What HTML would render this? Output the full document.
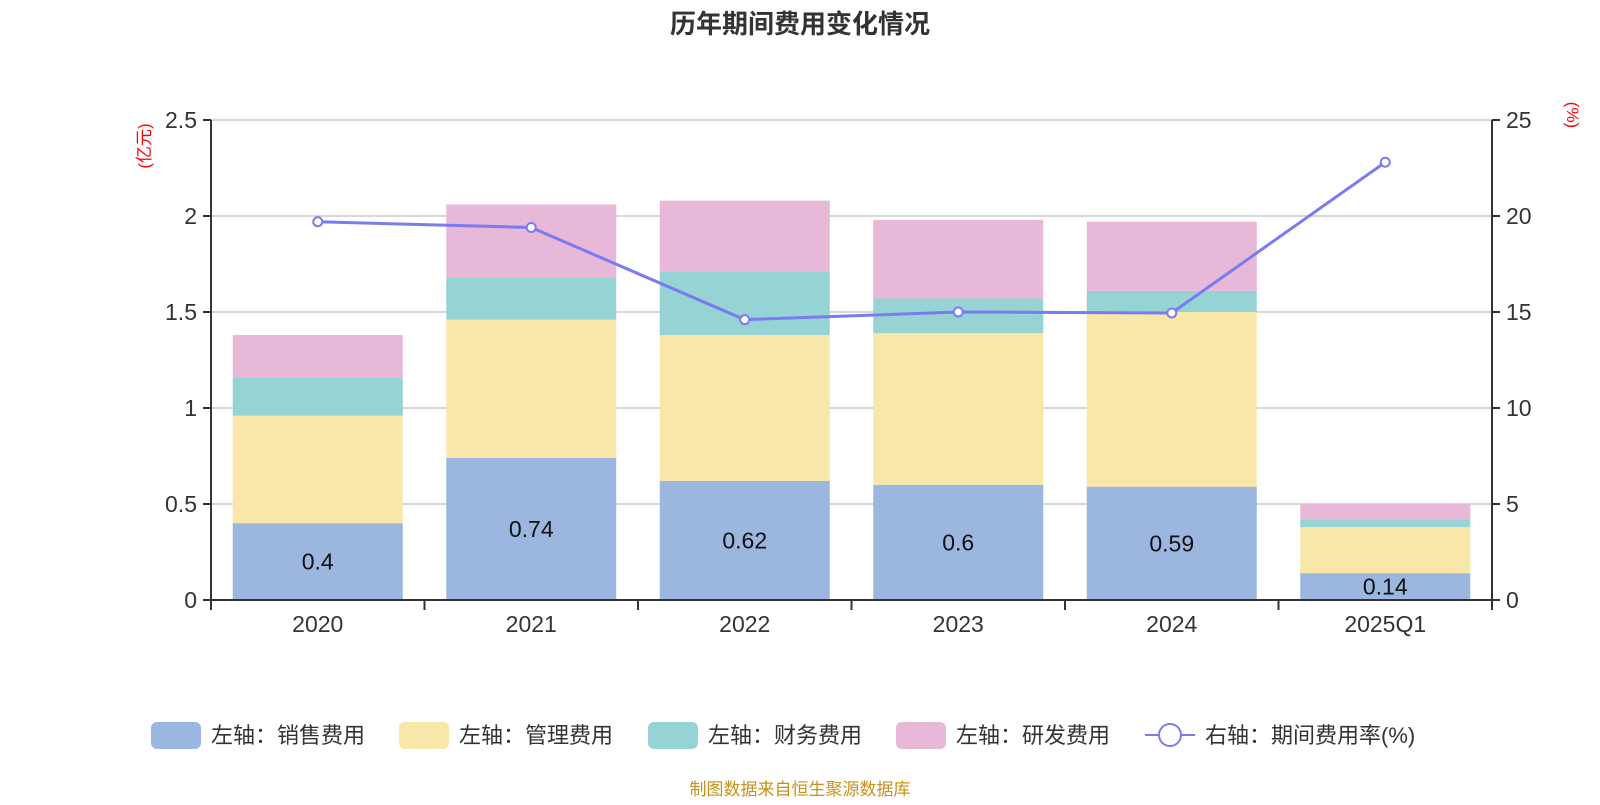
<!DOCTYPE html>
<html><head><meta charset="utf-8"><style>
body{margin:0;background:#fff;}
svg text{font-family:"Liberation Sans","Noto Sans CJK SC",sans-serif;}
</style></head><body>
<svg id="chart" width="1600" height="800" xmlns="http://www.w3.org/2000/svg">
<text x="800" y="33" text-anchor="middle" font-size="26" font-weight="bold" fill="#333">历年期间费用变化情况</text>
<text transform="translate(150,146) rotate(-90)" text-anchor="middle" font-size="17" fill="#f00">(亿元)</text>
<text transform="translate(1567,115) rotate(90)" text-anchor="middle" font-size="17" fill="#f00">(%)</text>
<g id="grid"></g><g id="bars"></g><g id="axes"></g><g id="line"></g>
<g id="legend" font-size="22" fill="#333">
<rect x="151" y="722" width="50" height="27" rx="6" fill="#9bb7e0"/>
<text x="211" y="743">左轴：销售费用</text>
<rect x="399" y="722" width="50" height="27" rx="6" fill="#f8e7a8"/>
<text x="459" y="743">左轴：管理费用</text>
<rect x="648" y="722" width="50" height="27" rx="6" fill="#96d3d5"/>
<text x="708" y="743">左轴：财务费用</text>
<rect x="896" y="722" width="50" height="27" rx="6" fill="#e7b8d8"/>
<text x="956" y="743">左轴：研发费用</text>
<line x1="1145" y1="735" x2="1195" y2="735" stroke="#7b7bf0" stroke-width="2"/>
<circle cx="1170" cy="735" r="11" fill="#fff" stroke="#7b7bf0" stroke-width="2"/>
<text x="1205" y="743">右轴：期间费用率(%)</text>
</g>
<text x="800" y="795" text-anchor="middle" font-size="17" fill="#c8901a">制图数据来自恒生聚源数据库</text>
</svg>
<script>
const categories=["2020","2021","2022","2023","2024","2025Q1"];
const sales=[0.40,0.74,0.62,0.60,0.59,0.14];
const admin=[0.56,0.72,0.76,0.79,0.91,0.24];
const finance=[0.20,0.22,0.33,0.18,0.11,0.04];
const rd=[0.22,0.38,0.37,0.41,0.36,0.08];
const rate=[19.7,19.4,14.6,15.0,14.95,22.8];
const leftTicks=["0","0.5","1","1.5","2","2.5"];
const rightTicks=["0","5","10","15","20","25"];
const NS="http://www.w3.org/2000/svg";
const L=211,R=1492,T=120,B=600;
const band=(R-L)/categories.length, bw=170;
const yL=v=>B-(v/2.5)*(B-T);
const yR=v=>B-(v/25)*(B-T);
const xC=i=>L+band*(i+0.5);
function mk(tag,attrs,parent){const e=document.createElementNS(NS,tag);for(const k in attrs)e.setAttribute(k,attrs[k]);document.getElementById(parent).appendChild(e);return e;}
leftTicks.forEach((t,i)=>{
  const v=parseFloat(t),y=yL(v);
  if(i>0){const g=mk('line',{x1:L,x2:R,y1:y,y2:y,stroke:'#ccc','stroke-width':1.5},'grid');
  
  }
  const tk=mk('line',{x1:L-8,x2:L,y1:y,y2:y,stroke:'#333','stroke-width':2},'axes');
  
  
  const tx=mk('text',{x:L-14,y:y+8,'text-anchor':'end','font-size':23,fill:'#333'},'axes');tx.textContent=t;
  
  
});
rightTicks.forEach(t=>{
  const y=yR(parseFloat(t));
  const tk=mk('line',{x1:R,x2:R+8,y1:y,y2:y,stroke:'#333','stroke-width':2},'axes');
  
  
  const tx=mk('text',{x:R+14,y:y+8,'font-size':23,fill:'#333'},'axes');tx.textContent=t;
  
  
});
const series=[[sales,'#9bb7e0','sales'],[admin,'#f8e7a8','admin'],[finance,'#96d3d5','finance'],[rd,'#e7b8d8','rd']];
categories.forEach((c,i)=>{
  let base=0;
  series.forEach(([arr,col,nm])=>{
    const y0=yL(base),y1=yL(base+arr[i]);
    const r=mk('rect',{x:xC(i)-bw/2,y:y1,width:bw,height:y0-y1,fill:col},'bars');
    
    
    base+=arr[i];
  });
  const lb=mk('text',{x:xC(i),y:(yL(0)+yL(sales[i]))/2+8,'text-anchor':'middle','font-size':23,fill:'#111'},'bars');lb.textContent=sales[i];
  
  
  const xl=mk('text',{x:xC(i),y:B+32,'text-anchor':'middle','font-size':23,fill:'#333'},'axes');xl.textContent=c;
  
  
});
for(let i=0;i<=categories.length;i++){const x=L+band*i;
  const tk=mk('line',{x1:x,x2:x,y1:B,y2:B+10,stroke:'#333','stroke-width':2},'axes');
  
  }
[[L,'left-axis'],[R,'right-axis']].forEach(([x,n])=>{const a=mk('line',{x1:x,x2:x,y1:T,y2:B+10,stroke:'#333','stroke-width':2},'axes');
  
  });
const xa=mk('line',{x1:L,x2:R,y1:B,y2:B,stroke:'#333','stroke-width':2},'axes');


const pl=mk('polyline',{points:rate.map((v,i)=>xC(i)+','+yR(v)).join(' '),fill:'none',stroke:'#7b7bf0','stroke-width':3},'line');


rate.forEach((v,i)=>{const p=mk('circle',{cx:xC(i),cy:yR(v),r:4.5,fill:'#fff',stroke:'#7b7bf0','stroke-width':2},'line');
  
  });
</script>
</body></html>
